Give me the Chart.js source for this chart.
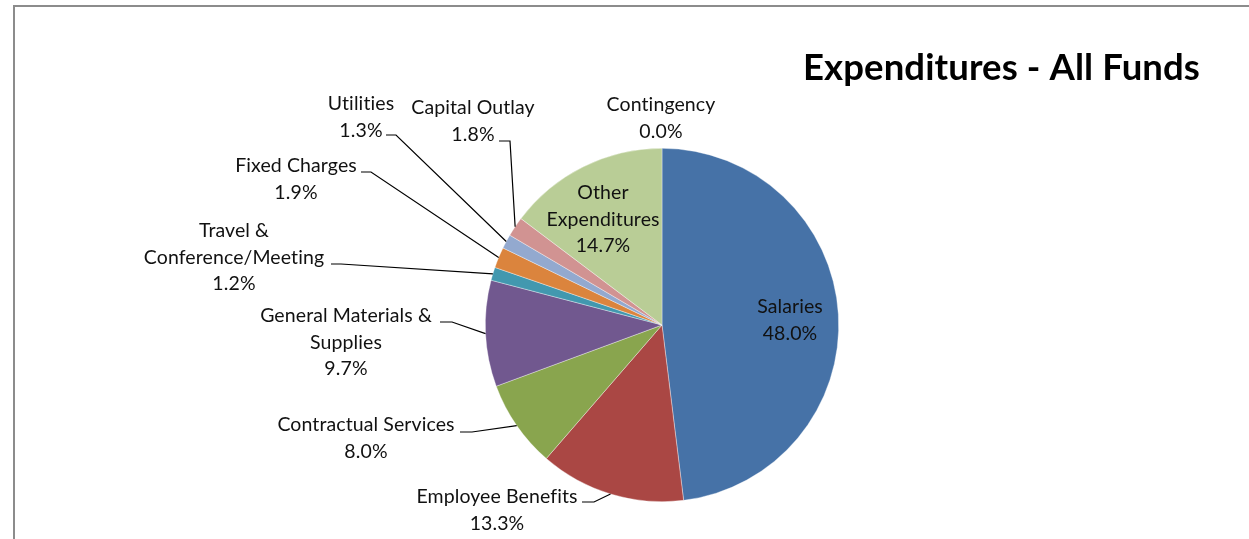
<!DOCTYPE html>
<html>
<head>
<meta charset="utf-8">
<script src="https://cdn.jsdelivr.net/npm/chart.js@4/dist/chart.umd.min.js"></script>
<style>
  html, body { margin: 0; padding: 0; background: #fff; }
  #wrap { width: 1249px; height: 539px; }
</style>
</head>
<body>
<div id="wrap"><canvas id="chart" width="1249" height="539"></canvas></div>
<script>
// categories and shares (percent of total), clockwise from 12 o'clock
var categories = ['Salaries', 'Employee Benefits', 'Contractual Services', 'General Materials & Supplies',
	'Travel & Conference/Meeting', 'Fixed Charges', 'Utilities', 'Capital Outlay', 'Contingency', 'Other Expenditures'];
var shares = [48.0, 13.3, 8.0, 9.7, 1.2, 1.9, 1.3, 1.8, 0.0, 14.7];
var colors = ['#4672A7', '#AA4744', '#89A54E', '#71588F', '#4298AF', '#DB843D', '#93A9CF', '#D19392', '#A99BBD', '#B9CD96'];

// label text lines (the percent line is appended from shares)
var labelLines = [
	['Salaries'],
	['Employee Benefits'],
	['Contractual Services'],
	['General Materials &', 'Supplies'],
	['Travel &', 'Conference/Meeting'],
	['Fixed Charges'],
	['Utilities'],
	['Capital Outlay'],
	['Contingency'],
	['Other', 'Expenditures']
];

// where each label block sits: centre x, first line y, and leader start/elbow (null = no leader)
var labelPos = [
	{x: 790, y: 307, lead: null},
	{x: 497, y: 497, lead: [582, 502, 594, 502]},
	{x: 366, y: 425, lead: [460, 432, 472, 432]},
	{x: 346, y: 316, lead: [440, 322, 452, 322]},
	{x: 234, y: 231, lead: [331, 264, 341, 264]},
	{x: 296, y: 166, lead: [361, 172, 371, 172]},
	{x: 361, y: 104, lead: [386, 135, 396, 135]},
	{x: 473, y: 108, lead: [499, 141, 510, 141]},
	{x: 661, y: 105, lead: null},
	{x: 603, y: 193, lead: null}
];

var LINE_H = 26.3;
var LABEL_FONT = '19.5px Lato, "Open Sans", sans-serif';

var pieLabels = {
	id: 'pieLabels',
	beforeDraw(chart) {
		var ctx = chart.ctx;
		ctx.save();
		// outer frame
		ctx.strokeStyle = '#8c8c8c';
		ctx.lineWidth = 2;
		ctx.beginPath();
		ctx.moveTo(14, 545);
		ctx.lineTo(14, 6);
		ctx.lineTo(1260, 6);
		ctx.stroke();
		ctx.restore();
	},
	afterDraw(chart) {
		var ctx = chart.ctx;
		var arcs = chart.getDatasetMeta(0).data;
		ctx.save();
		// tiny spacing keeps Lato from merging "ti" / "fi"
		ctx.letterSpacing = '0.1px';

		// title
		ctx.fillStyle = '#000';
		ctx.font = 'bold 36.5px Lato, "Open Sans", sans-serif';
		ctx.textAlign = 'right';
		ctx.textBaseline = 'middle';
		ctx.fillText('Expenditures - All Funds', 1200, 68);

		// leader lines
		ctx.strokeStyle = '#000';
		ctx.lineWidth = 1.2;
		labelPos.forEach((p, i) => {
			if(!p.lead) return;
			var a = arcs[i];
			var mid = (a.startAngle + a.endAngle) / 2;
			var ex = a.x + a.outerRadius * Math.cos(mid);
			var ey = a.y + a.outerRadius * Math.sin(mid);
			ctx.beginPath();
			ctx.moveTo(p.lead[0], p.lead[1]);
			ctx.lineTo(p.lead[2], p.lead[3]);
			ctx.lineTo(ex, ey);
			ctx.stroke();
		});

		// label text
		ctx.font = LABEL_FONT;
		ctx.textAlign = 'center';
		ctx.fillStyle = '#111';
		labelPos.forEach((p, i) => {
			var lines = labelLines[i].concat([shares[i].toFixed(1) + '%']);
			lines.forEach((t, k) => {
				ctx.fillText(t, p.x, p.y + k * LINE_H);
			});
		});
		ctx.restore();
	}
};

var chart = new Chart(document.getElementById('chart'), {
	type: 'pie',
	data: {
		labels: categories,
		datasets: [{
			data: shares,
			backgroundColor: colors,
			borderColor: 'rgba(255,255,255,0.6)',
			borderWidth: 0.6
		}]
	},
	options: {
		responsive: false,
		animation: false,
		layout: {
			padding: {left: 485, right: 410, top: 148, bottom: 37}
		},
		plugins: {
			legend: {display: false},
			tooltip: {enabled: false},
			title: {display: false}
		}
	},
	plugins: [pieLabels]
});
</script>
</body>
</html>
